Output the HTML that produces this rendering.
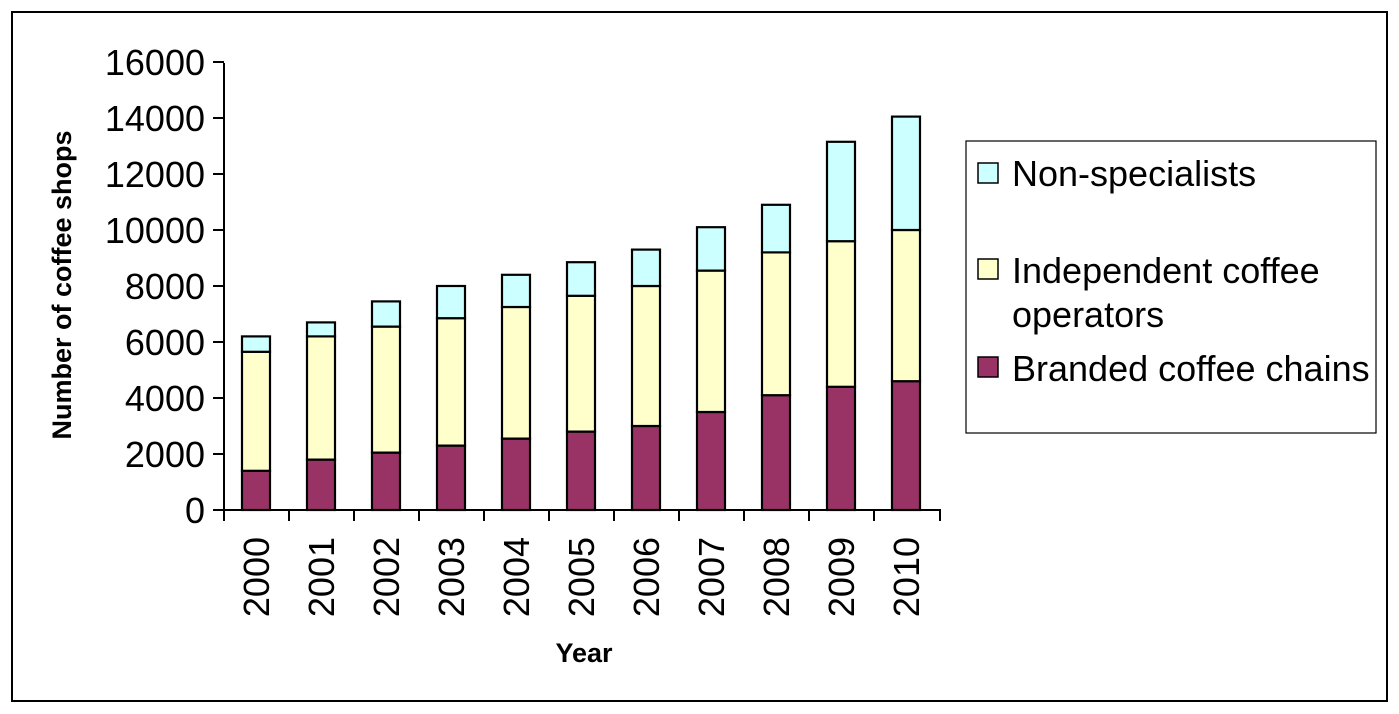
<!DOCTYPE html><html><head><style>body{margin:0;background:#fff}svg{display:block}text{font-family:"Liberation Sans",Arial,sans-serif}</style></head><body>
<svg width="1399" height="714" xmlns="http://www.w3.org/2000/svg">
<rect x="12" y="12" width="1375" height="689" fill="#fff" stroke="#000" stroke-width="2"/>
<g stroke="#000" stroke-width="2">
<line x1="224" y1="63" x2="224" y2="511"/>
<line x1="213" y1="510" x2="941" y2="510"/>
<line x1="213" y1="454" x2="224" y2="454"/><line x1="213" y1="398" x2="224" y2="398"/><line x1="213" y1="342" x2="224" y2="342"/><line x1="213" y1="286" x2="224" y2="286"/><line x1="213" y1="230" x2="224" y2="230"/><line x1="213" y1="174" x2="224" y2="174"/><line x1="213" y1="118" x2="224" y2="118"/><line x1="213" y1="62" x2="224" y2="62"/>
<line x1="224" y1="510" x2="224" y2="521"/><line x1="289" y1="510" x2="289" y2="521"/><line x1="354" y1="510" x2="354" y2="521"/><line x1="419" y1="510" x2="419" y2="521"/><line x1="484" y1="510" x2="484" y2="521"/><line x1="549" y1="510" x2="549" y2="521"/><line x1="614" y1="510" x2="614" y2="521"/><line x1="679" y1="510" x2="679" y2="521"/><line x1="744" y1="510" x2="744" y2="521"/><line x1="809" y1="510" x2="809" y2="521"/><line x1="874" y1="510" x2="874" y2="521"/><line x1="940" y1="510" x2="940" y2="521"/>
</g>
<g font-size="36" text-anchor="end">
<text x="205" y="523">0</text><text x="205" y="467">2000</text><text x="205" y="411">4000</text><text x="205" y="355">6000</text><text x="205" y="299">8000</text><text x="205" y="243">10000</text><text x="205" y="187">12000</text><text x="205" y="131">14000</text><text x="205" y="75">16000</text>
</g>
<g stroke="#000" stroke-width="2.2">
<rect x="242" y="470.8" width="28" height="39.2" fill="#993366"/><rect x="242" y="351.8" width="28" height="119" fill="#ffffcc"/><rect x="242" y="336.4" width="28" height="15.4" fill="#ccffff"/>
<rect x="307" y="459.6" width="28" height="50.4" fill="#993366"/><rect x="307" y="336.4" width="28" height="123.2" fill="#ffffcc"/><rect x="307" y="322.4" width="28" height="14" fill="#ccffff"/>
<rect x="372" y="452.6" width="28" height="57.4" fill="#993366"/><rect x="372" y="326.6" width="28" height="126" fill="#ffffcc"/><rect x="372" y="301.4" width="28" height="25.2" fill="#ccffff"/>
<rect x="437" y="445.6" width="28" height="64.4" fill="#993366"/><rect x="437" y="318.2" width="28" height="127.4" fill="#ffffcc"/><rect x="437" y="286" width="28" height="32.2" fill="#ccffff"/>
<rect x="502" y="438.6" width="28" height="71.4" fill="#993366"/><rect x="502" y="307" width="28" height="131.6" fill="#ffffcc"/><rect x="502" y="274.8" width="28" height="32.2" fill="#ccffff"/>
<rect x="567" y="431.6" width="28" height="78.4" fill="#993366"/><rect x="567" y="295.8" width="28" height="135.8" fill="#ffffcc"/><rect x="567" y="262.2" width="28" height="33.6" fill="#ccffff"/>
<rect x="632" y="426" width="28" height="84" fill="#993366"/><rect x="632" y="286" width="28" height="140" fill="#ffffcc"/><rect x="632" y="249.6" width="28" height="36.4" fill="#ccffff"/>
<rect x="697" y="412" width="28" height="98" fill="#993366"/><rect x="697" y="270.6" width="28" height="141.4" fill="#ffffcc"/><rect x="697" y="227.2" width="28" height="43.4" fill="#ccffff"/>
<rect x="762" y="395.2" width="28" height="114.8" fill="#993366"/><rect x="762" y="252.4" width="28" height="142.8" fill="#ffffcc"/><rect x="762" y="204.8" width="28" height="47.6" fill="#ccffff"/>
<rect x="827" y="386.8" width="28" height="123.2" fill="#993366"/><rect x="827" y="241.2" width="28" height="145.6" fill="#ffffcc"/><rect x="827" y="141.8" width="28" height="99.4" fill="#ccffff"/>
<rect x="892" y="381.2" width="28" height="128.8" fill="#993366"/><rect x="892" y="230" width="28" height="151.2" fill="#ffffcc"/><rect x="892" y="116.6" width="28" height="113.4" fill="#ccffff"/>
</g>
<g font-size="36" text-anchor="end">
<text transform="translate(269,537) rotate(-90)">2000</text>
<text transform="translate(334,537) rotate(-90)">2001</text>
<text transform="translate(399,537) rotate(-90)">2002</text>
<text transform="translate(464,537) rotate(-90)">2003</text>
<text transform="translate(529,537) rotate(-90)">2004</text>
<text transform="translate(594,537) rotate(-90)">2005</text>
<text transform="translate(659,537) rotate(-90)">2006</text>
<text transform="translate(724,537) rotate(-90)">2007</text>
<text transform="translate(789,537) rotate(-90)">2008</text>
<text transform="translate(854,537) rotate(-90)">2009</text>
<text transform="translate(919,537) rotate(-90)">2010</text>
</g>
<text x="584" y="662" font-size="27" font-weight="bold" text-anchor="middle">Year</text>
<text transform="translate(71,285) rotate(-90)" font-size="27" font-weight="bold" text-anchor="middle">Number of coffee shops</text>
<rect x="966" y="141" width="410" height="292" fill="#fff" stroke="#000" stroke-width="1.2"/>
<g stroke="#000" stroke-width="1.5">
<rect x="978" y="163" width="20" height="20" fill="#ccffff"/>
<rect x="978" y="259" width="20" height="20" fill="#ffffcc"/>
<rect x="978" y="357" width="20" height="20" fill="#993366"/>
</g>
<g font-size="36">
<text x="1012" y="186">Non-specialists</text>
<text x="1012" y="283">Independent  coffee</text>
<text x="1012" y="327">operators</text>
<text x="1012" y="381">Branded coffee chains</text>
</g>
</svg></body></html>
